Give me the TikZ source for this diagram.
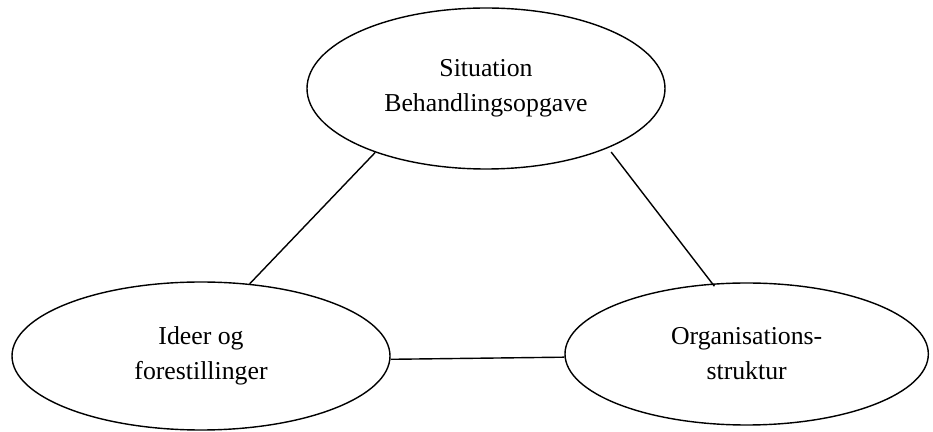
\documentclass[tikz,border=0pt]{standalone}
\usepackage{fontspec}
\setmainfont{Liberation Serif}
\usepackage{tikz}
\usetikzlibrary{shapes.geometric}
\tikzstyle{ovalnode} = [ellipse, inner sep=0pt, draw=black, line width=1.2pt, align=center, font=\fontsize{22}{30}\selectfont]
\tikzstyle{link} = [line width=1.2pt]

\begin{document}
\begin{tikzpicture}
    \useasboundingbox (0,0) rectangle (27.99,12.96);
    \node (situation) [ovalnode, minimum width=10.74cm, minimum height=4.83cm] at (14.58,10.305) {Situation\\Behandlingsopgave};
    \node (ideer) [ovalnode, minimum width=11.34cm, minimum height=4.44cm] at (6.03,2.28) {Ideer og\\forestillinger};
    \node (organisation) [ovalnode, minimum width=10.9cm, minimum height=4.26cm] at (22.40,2.34) {Organisations-\\struktur};

    \draw [link] (situation.210) -- (ideer.56);
    \draw [link, shorten <=1.5mm, shorten >=-1mm] (situation.334) -- (organisation.116);
    \draw [link] (ideer.-1.2) -- (organisation.181.8);
  \end{tikzpicture}
\end{document}
